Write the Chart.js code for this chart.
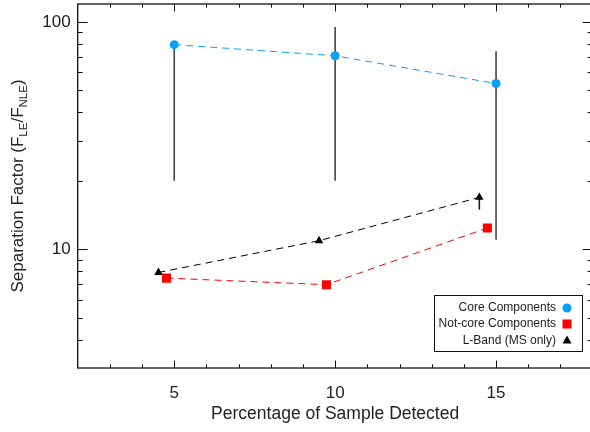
<!DOCTYPE html>
<html lang="en">
<head>
<meta charset="UTF-8">
<title>Separation Factor</title>
<style>
  html, body { margin: 0; padding: 0; background: #fff; }
  #wrap { width: 590px; height: 432px; }
</style>
</head>
<body>
<div id="wrap"><canvas id="myChart"></canvas></div>
<script src="https://cdn.jsdelivr.net/npm/chart.js"></script>
<script>
// values
const coreX = [5, 10, 15];
const coreY = [79.5, 71, 53.6];
const coreLow = [20, 20, 11];
const coreHigh = [79.5, 95, 74.3];

const notCoreX = [4.76, 9.73, 14.73];
const notCoreY = [7.46, 6.98, 12.4];

const lbandX = [4.51, 9.5, 14.48];
const lbandY = [7.9, 10.9, 16.9];
const lbandLow = [null, null, 14.9];

const xTicks = [5, 10, 15];
const yTicks = [10, 100];
const legendLabels = ['Core Components', 'Not-core Components', 'L-Band (MS only)'];

const FONT = "'Liberation Sans', Arial, Helvetica, sans-serif";
const TXT = '#222';
const BLUE = '#0aa0f5';
const RED = '#ff0000';

const pts = (xs, ys) => xs.map((v, i) => ({ x: v, y: ys[i] }));
const bars = (xs, lo, hi) => {
    const out = [];
    xs.forEach((v, i) => {
        if (lo[i] == null) return;
        out.push({ x: v, y: lo[i] }, { x: v, y: hi[i] }, { x: v, y: null });
    });
    return out;
};

// plot box of the original (right edge runs just past the picture)
const AREA = { left: 77.7, top: 4, right: 592.6, bottom: 368 };

const fixArea = {
    id: 'fixArea',
    afterLayout(chart) {
        const a = chart.chartArea, { x, y } = chart.scales;
        Object.assign(a, AREA);
        a.width = a.right - a.left;
        a.height = a.bottom - a.top;
        x.left = a.left; x.right = a.right; x.width = a.width;
        x.top = a.bottom; x.bottom = 432; x.height = 432 - a.bottom;
        y.left = 0; y.right = a.left; y.width = a.left;
        y.top = a.top; y.bottom = a.bottom; y.height = a.height;
        x.configure(); y.configure();
    }
};

// inward ticks on all four sides + frame, IDL style
const frame = {
    id: 'frame',
    afterDraw(chart) {
        const { ctx, chartArea: a, scales: { x, y } } = chart;
        ctx.save();
        ctx.strokeStyle = '#111';
        ctx.lineWidth = 1.3;
        ctx.strokeRect(a.left, a.top, a.right - a.left, a.bottom - a.top);
        ctx.lineWidth = 1;
        const seg = (x1, y1, x2, y2) => { ctx.beginPath(); ctx.moveTo(x1, y1); ctx.lineTo(x2, y2); ctx.stroke(); };
        for (let v = 3; v <= 17; v++) {
            const px = Math.round(x.getPixelForValue(v)) + 0.5;
            const len = v % 5 === 0 ? 7.5 : 3.7;
            seg(px, a.bottom, px, a.bottom - len);
            seg(px, a.top, px, a.top + len);
        }
        const yv = [4, 5, 6, 7, 8, 9, 10, 20, 30, 40, 50, 60, 70, 80, 90, 100];
        yv.forEach(v => {
            const py = Math.round(y.getPixelForValue(v)) + 0.5;
            const len = (v === 10 || v === 100) ? 10 : 5;
            seg(a.left, py, a.left + len, py);
            seg(a.right, py, a.right - len, py);
        });

        // y title with subscripts
        ctx.fillStyle = TXT;
        ctx.textBaseline = 'alphabetic';
        const parts = [
            ['Separation Factor (F', 17, 0], ['LE', 11.5, 4], ['/F', 17, 0], ['NLE', 11.5, 4], [')', 17, 0]
        ];
        let total = 0;
        parts.forEach(p => { ctx.font = p[1] + 'px ' + FONT; total += ctx.measureText(p[0]).width; });
        ctx.translate(22.5, (a.top + a.bottom) / 2);
        ctx.rotate(-Math.PI / 2);
        let cx = -total / 2;
        parts.forEach(p => {
            ctx.font = p[1] + 'px ' + FONT;
            ctx.fillText(p[0], cx, p[2]);
            cx += ctx.measureText(p[0]).width;
        });
        ctx.setTransform(1, 0, 0, 1, 0, 0);

        // legend box, markers on the right
        const bx = 434, by = 295, bw = 148, bh = 56;
        ctx.fillStyle = '#fff';
        ctx.fillRect(bx, by, bw, bh);
        ctx.strokeStyle = '#111';
        ctx.lineWidth = 1;
        ctx.strokeRect(bx + 0.5, by + 0.5, bw, bh);
        ctx.font = '12px ' + FONT;
        ctx.textAlign = 'right';
        ctx.textBaseline = 'middle';
        const rows = [308, 324, 340.5];
        rows.forEach((ry, i) => {
            ctx.fillStyle = TXT;
            ctx.fillText(legendLabels[i], 556, ry);
            const mx = 567;
            if (i === 0) {
                ctx.fillStyle = BLUE;
                ctx.beginPath(); ctx.arc(mx, ry, 4.5, 0, Math.PI * 2); ctx.fill();
            } else if (i === 1) {
                ctx.fillStyle = RED;
                ctx.fillRect(mx - 4.5, ry - 4.5, 9, 9);
            } else {
                ctx.fillStyle = '#000';
                ctx.beginPath(); ctx.moveTo(mx, ry - 5); ctx.lineTo(mx + 4.5, ry + 3); ctx.lineTo(mx - 4.5, ry + 3); ctx.closePath(); ctx.fill();
            }
        });
        ctx.restore();
    }
};

const ctx = document.querySelector('#myChart');
const myChart = new Chart(ctx, {
    type: 'scatter',
    data: {
        datasets: [
            {
                label: legendLabels[0],
                data: pts(coreX, coreY),
                showLine: true,
                borderColor: BLUE, backgroundColor: BLUE,
                borderWidth: 1, borderDash: [7, 5],
                pointStyle: 'circle', pointRadius: 4.5, pointBorderWidth: 0
            },
            {
                label: legendLabels[1],
                data: pts(notCoreX, notCoreY),
                showLine: true,
                borderColor: RED, backgroundColor: RED,
                borderWidth: 1, borderDash: [7, 5],
                pointStyle: 'rect', pointRadius: 6.4, pointBorderWidth: 0
            },
            {
                label: legendLabels[2],
                data: pts(lbandX, lbandY),
                showLine: true,
                borderColor: '#000', backgroundColor: '#000',
                borderWidth: 1, borderDash: [7, 5],
                pointStyle: 'triangle', pointRadius: 4.9, pointBorderWidth: 0
            },
            {
                label: 'core err',
                data: bars(coreX, coreLow, coreHigh),
                showLine: true, spanGaps: false,
                borderColor: '#444', borderWidth: 1.6, pointRadius: 0
            },
            {
                label: 'lband err',
                data: bars(lbandX, lbandLow, lbandY),
                showLine: true, spanGaps: false,
                borderColor: '#222', borderWidth: 1.6, pointRadius: 0
            }
        ]
    },
    options: {
        responsive: true,
        maintainAspectRatio: false,
        animation: false,
        devicePixelRatio: 1,
        plugins: { legend: { display: false }, tooltip: { enabled: false } },
        scales: {
            x: {
                type: 'linear', min: 2, max: 18,
                grid: { display: false, drawTicks: false },
                border: { display: false },
                afterBuildTicks: s => { s.ticks = xTicks.map(v => ({ value: v })); },
                ticks: { font: { family: FONT, size: 17 }, color: TXT, padding: 15, maxRotation: 0 },
                title: {
                    display: true, text: 'Percentage of Sample Detected',
                    font: { family: FONT, size: 17.5 }, color: TXT,
                    padding: { top: 4, bottom: 7 }
                }
            },
            y: {
                type: 'logarithmic', min: 3, max: 120,
                grid: { display: false, drawTicks: false },
                border: { display: false },
                afterBuildTicks: s => { s.ticks = yTicks.map(v => ({ value: v })); },
                ticks: { font: { family: FONT, size: 17 }, color: TXT, padding: 7, callback: v => String(v) }
            }
        }
    },
    plugins: [fixArea, frame]
});
</script>
</body>
</html>
